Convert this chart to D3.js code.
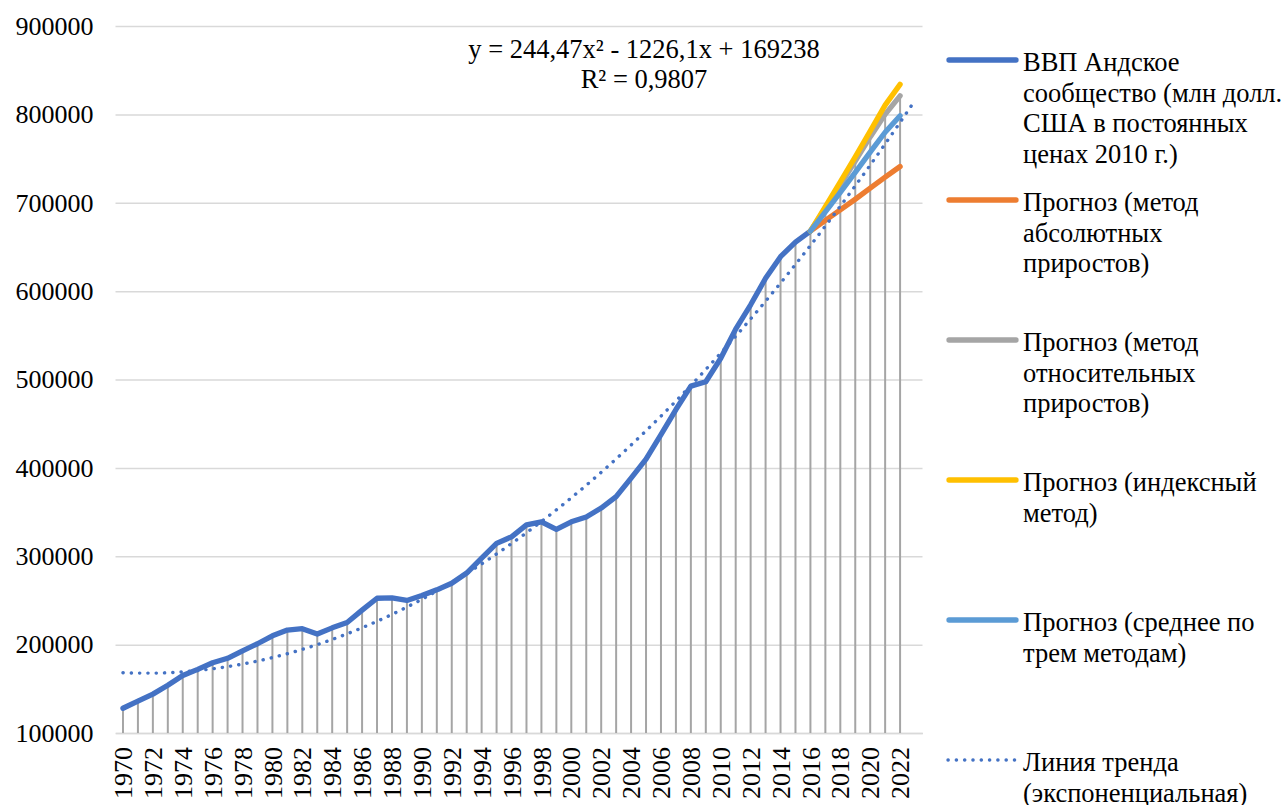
<!DOCTYPE html>
<html>
<head>
<meta charset="utf-8">
<script src="https://cdn.jsdelivr.net/npm/d3@7"></script>
<style>
  html, body { margin: 0; padding: 0; background: #fff; }
  svg { display: block; }
</style>
</head>
<body>
<svg id="chart" width="1288" height="805"></svg>
<script>
// ---------- data ----------
const years = [1970,1971,1972,1973,1974,1975,1976,1977,1978,1979,1980,1981,1982,1983,1984,1985,1986,1987,1988,1989,
  1990,1991,1992,1993,1994,1995,1996,1997,1998,1999,2000,2001,2002,2003,2004,2005,2006,2007,2008,2009,
  2010,2011,2012,2013,2014,2015,2016,2017,2018,2019,2020,2021,2022,2023];

const gdpYears = years.slice(0, 47); // 1970..2016
const gdpValues = [128000,136000,144000,154000,165000,172000,179500,184500,193000,201000,
  210000,216500,218000,212000,219000,225000,239000,252500,253000,250000,
  255500,262000,269500,281000,298000,314500,322000,335500,339000,330500,
  339000,344500,354500,367500,388500,410000,437500,466000,492500,497500,
  524000,557000,584500,614500,639000,655500,668000];

const forecastYears = [2016,2017,2018,2019,2020,2021,2022];
const absoluteValues = [668000,680000,692000,704000,716500,729000,741000];
const relativeValues = [668000,693500,720000,747000,774500,800000,821000];
const indexValues    = [668000,695500,723500,752000,781000,810500,834000];
const averageValues  = [668000,689800,711800,734300,757300,779800,798500];

// trendline as displayed on the chart: y = 244,47x^2 - 1226,1x + 169238 (x = 1 for 1970)
const trendCoef = [244.47, -1226.1, 169238];
const trendYears = years; // through 2023 (forward forecast 1 period)

const yTicks = [100000,200000,300000,400000,500000,600000,700000,800000,900000];
const xTickLabels = [1970,1972,1974,1976,1978,1980,1982,1984,1986,1988,1990,1992,1994,1996,1998,
  2000,2002,2004,2006,2008,2010,2012,2014,2016,2018,2020,2022];

const equationLines = ["y = 244,47x² - 1226,1x + 169238", "R² = 0,9807"];

const legendItems = [
  {color: "#4472C4", dotted: false, lines: ["ВВП Андское", "сообщество (млн долл.", "США в постоянных", "ценах 2010 г.)"]},
  {color: "#ED7D31", dotted: false, lines: ["Прогноз (метод", "абсолютных", "приростов)"]},
  {color: "#A5A5A5", dotted: false, lines: ["Прогноз (метод", "относительных", "приростов)"]},
  {color: "#FFC000", dotted: false, lines: ["Прогноз (индексный", "метод)"]},
  {color: "#5B9BD5", dotted: false, lines: ["Прогноз (среднее по", "трем методам)"]},
  {color: "#4472C4", dotted: true,  lines: ["Линия тренда", "(экспоненциальная)"]}
];

// ---------- layout ----------
const FAMILY = "Liberation Serif";
const svg = d3.select("#chart");
const plotLeft = 115.5, plotRight = 922.5, plotTop = 26, plotBottom = 733;
const AXIS_FONT = 26, LEGEND_FONT = 26.5, EQ_FONT = 26.5;

const x = d3.scaleBand().domain(years).range([plotLeft, plotRight]).padding(0);
const cx = yr => x(yr) + x.bandwidth() / 2;
const y = d3.scaleLinear().domain([100000, 900000]).range([plotBottom, plotTop]);

function styleText(sel, size) {
  sel.style("font-family", FAMILY).style("font-size", size + "px").attr("fill", "#000");
}

// gridlines + y labels
const yAxis = d3.axisLeft(y).tickValues(yTicks).tickSize(-(plotRight - plotLeft)).tickPadding(22).tickFormat(d3.format("d"));
const gy = svg.append("g").attr("transform", `translate(${plotLeft},0)`).call(yAxis);
gy.select(".domain").remove();
gy.selectAll(".tick line").attr("stroke", "#D9D9D9").attr("stroke-width", 1.5);
styleText(gy.selectAll(".tick text"), AXIS_FONT);

// x axis
const xAxis = d3.axisBottom(x).tickValues(xTickLabels).tickSize(0).tickPadding(0);
const gx = svg.append("g").attr("transform", `translate(0,${plotBottom})`).call(xAxis);
gx.select(".domain").attr("stroke", "#D9D9D9").attr("stroke-width", 1.5);
styleText(gx.selectAll(".tick text"), AXIS_FONT);
gx.selectAll(".tick text")
  .attr("transform", "rotate(-90)")
  .attr("text-anchor", "end")
  .attr("x", -14).attr("y", 0).attr("dy", "0.35em");

// drop lines (highest value per category excluding the index-method line)
const maxByYear = new Map();
gdpYears.forEach((yr, i) => maxByYear.set(yr, gdpValues[i]));
forecastYears.forEach((yr, i) => {
  const m = Math.max(absoluteValues[i], relativeValues[i], averageValues[i], maxByYear.get(yr) || 0);
  maxByYear.set(yr, m);
});
const dropYears = years.filter(yr => maxByYear.has(yr));
svg.append("g").selectAll("line").data(dropYears).join("line")
  .attr("x1", d => cx(d)).attr("x2", d => cx(d))
  .attr("y1", d => y(maxByYear.get(d))).attr("y2", plotBottom)
  .attr("stroke", "#A5A5A5").attr("stroke-width", 2);

// series
const lineGen = d3.line().x(d => cx(d[0])).y(d => y(d[1]));
function drawSeries(xs, vs, color) {
  svg.append("path")
    .datum(xs.map((yr, i) => [yr, vs[i]]))
    .attr("d", lineGen)
    .attr("fill", "none").attr("stroke", color).attr("stroke-width", 5.3)
    .attr("stroke-linejoin", "round").attr("stroke-linecap", "round");
}
drawSeries(gdpYears, gdpValues, "#4472C4");
drawSeries(forecastYears, absoluteValues, "#ED7D31");
drawSeries(forecastYears, relativeValues, "#A5A5A5");
drawSeries(forecastYears, indexValues, "#FFC000");
drawSeries(forecastYears, averageValues, "#5B9BD5");

// trend line
const trendData = trendYears.map((yr, i) => {
  const t = i + 1;
  return [yr, trendCoef[0] * t * t + trendCoef[1] * t + trendCoef[2]];
});
svg.append("path")
  .datum(trendData)
  .attr("d", d3.line().x(d => cx(d[0])).y(d => y(d[1])).curve(d3.curveMonotoneX))
  .attr("fill", "none").attr("stroke", "#4472C4").attr("stroke-width", 3.4)
  .attr("stroke-dasharray", "0.2 8.1").attr("stroke-linecap", "round");

// equation label
const eq = svg.append("g").selectAll("text").data(equationLines).join("text")
  .attr("x", 644).attr("y", (d, i) => 49 + i * 30)
  .attr("dy", "0.35em").attr("text-anchor", "middle")
  .text(d => d);
styleText(eq, EQ_FONT);

// legend
const leg = svg.append("g");
legendItems.forEach((item, i) => {
  const ly = 60 + i * 140;
  const g = leg.append("g");
  g.append("line")
    .attr("x1", item.dotted ? 948 : 949).attr("x2", item.dotted ? 1018 : 1016)
    .attr("y1", ly).attr("y2", ly)
    .attr("stroke", item.color)
    .attr("stroke-width", item.dotted ? 3.4 : 5.3)
    .attr("stroke-linecap", "round")
    .attr("stroke-dasharray", item.dotted ? "0.2 8.1" : null);
  const t = g.selectAll("text").data(item.lines).join("text")
    .attr("x", 1023).attr("y", (d, j) => ly + 2 + j * 30.5)
    .attr("dy", "0.35em")
    .text(d => d);
  styleText(t, LEGEND_FONT);
});
</script>
</body>
</html>
